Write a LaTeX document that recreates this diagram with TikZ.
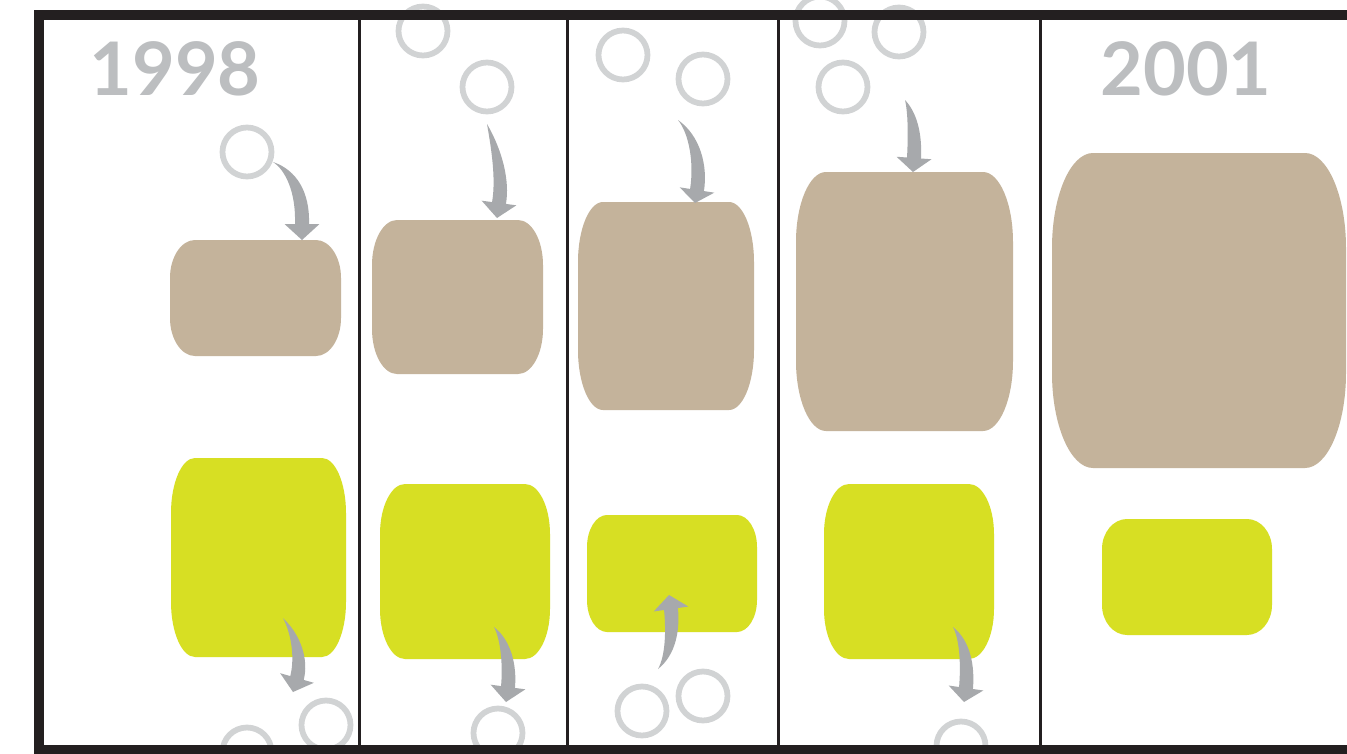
\documentclass[tikz,border=0pt]{standalone}
\usepackage{fontspec}
\setmainfont{Lato}
\usetikzlibrary{calc}

\definecolor{sandc}{HTML}{C4B39B}
\definecolor{limec}{HTML}{D7DF23}
\definecolor{ringc}{HTML}{D1D3D4}
\definecolor{arwc}{HTML}{A7A9AC}
\definecolor{framec}{HTML}{231F20}
\definecolor{yearc}{HTML}{BCBEC0}

% block with bulging sides: x1 y1 x2 y2 rx ry style
\newcommand{\barrel}[7]{%
  \fill[#7] ({#1+#5},#2) -- ({#3-#5},#2)
    .. controls ({#3-0.45*#5},#2) and (#3,{#2+0.45*#6}) .. (#3,{#2+#6})
    -- (#3,{#4-#6})
    .. controls (#3,{#4-0.45*#6}) and ({#3-0.45*#5},#4) .. ({#3-#5},#4)
    -- ({#1+#5},#4)
    .. controls ({#1+0.45*#5},#4) and (#1,{#4-0.45*#6}) .. (#1,{#4-#6})
    -- (#1,{#2+#6})
    .. controls (#1,{#2+0.45*#6}) and ({#1+0.45*#5},#2) .. ({#1+#5},#2) -- cycle;}

% tapered bent arrow: start, control, control, head base, tip
\newcommand{\curl}[5]{%
  \coordinate (cS) at #1; \coordinate (cA) at #2; \coordinate (cB) at #3;
  \coordinate (cM) at #4; \coordinate (cT) at #5;
  \coordinate (cL) at ($(cM)!0.14cm!90:(cT)$);
  \coordinate (cR) at ($(cM)!0.14cm!-90:(cT)$);
  \fill[arw] (cS) .. controls ($(cA)+0.8*(cL)-0.8*(cM)$) and ($(cB)+(cL)-(cM)$) .. (cL)
    -- ($(cM)!0.35cm!90:(cT)$) -- (cT) -- ($(cM)!0.35cm!-90:(cT)$) -- (cR)
    .. controls ($(cB)+(cR)-(cM)$) and ($(cA)+0.8*(cR)-0.8*(cM)$) .. (cS) -- cycle;}

\begin{document}
\begin{tikzpicture}[x=0.02cm,y=-0.02cm,
  ring/.style={draw=ringc,line width=0.115cm},
  sand/.style={fill=sandc},
  lime/.style={fill=limec},
  arw/.style={fill=arwc},
  year/.style={text=yearc,inner sep=0pt,font=\fontsize{42}{42}\selectfont\bfseries},
  divider/.style={draw=framec,line width=0.06cm}]
\useasboundingbox (0,0) rectangle (1347,754);
\clip (0,0) rectangle (1347,754);
\fill[white] (0,0) rectangle (1347,754);

% circles
\foreach \cx/\cy in {247/152, 326/725, 247/752, 423/31, 487/87, 498/733,
    623/55, 703/79, 642/711, 703/696, 820/21, 899/32, 843/87, 961/746}
  \draw[ring] (\cx,\cy) circle[radius=0.49cm];

% blocks
\barrel{170}{240}{341}{356}{25}{38}{sand}
\barrel{171}{458}{346}{657}{24}{55}{lime}
\barrel{372}{220}{543}{374}{25}{45}{sand}
\barrel{380}{484}{550}{659}{25}{50}{lime}
\barrel{578}{202}{754}{410}{25}{60}{sand}
\barrel{587}{515}{757}{632}{20}{32}{lime}
\barrel{796}{172}{1013}{431}{30}{70}{sand}
\barrel{824}{484}{994}{659}{25}{50}{lime}
\barrel{1052}{153}{1346}{468}{41}{95}{sand}
\barrel{1102}{519}{1272}{635}{25}{30}{lime}

% arrows
\curl{(273,162)}{(291,170)}{(303,192)}{(302,224)}{(302,240)}
\curl{(487,124)}{(497,150)}{(503,180)}{(499,203)}{(497,218)}
\curl{(678,120)}{(695,135)}{(701,165)}{(697,190)}{(695,203)}
\curl{(905,100)}{(914,115)}{(915,140)}{(914,158)}{(913,172)}
\curl{(283,618)}{(296,634)}{(302,658)}{(297,678)}{(293,692)}
\curl{(494,627)}{(506,640)}{(510,665)}{(508,687)}{(506,702)}
\curl{(658,669)}{(671,655)}{(673,630)}{(671,609)}{(669,595)}
\curl{(953,627)}{(965,640)}{(968,665)}{(966,688)}{(964,702)}

% years
\node[year] (y1998) at (175,69) {1998};
\node[year] (y2001) at (1186,69) {2001};

% frame
\foreach \x in {359,567,778,1040}
  \draw[divider] (\x,15) -- (\x,750);
\draw[framec,line width=0.2cm] (1400,15) -- (39,15) -- (39,750) -- (1400,750);
\end{tikzpicture}
\end{document}
